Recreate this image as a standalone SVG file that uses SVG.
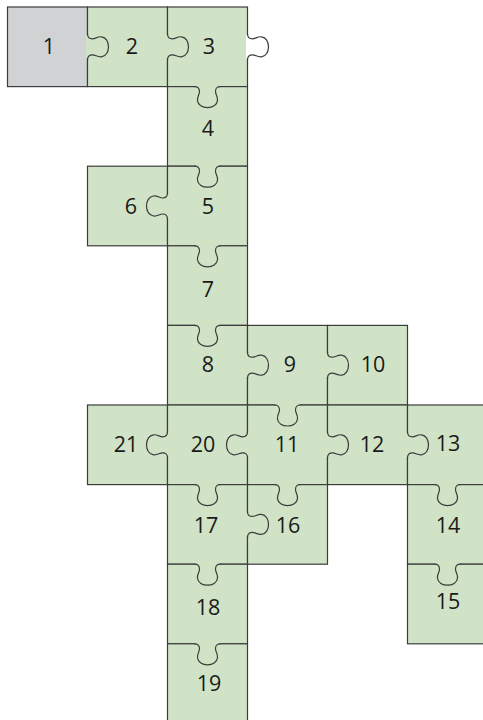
<svg xmlns="http://www.w3.org/2000/svg" xmlns:xlink="http://www.w3.org/1999/xlink" width="483" height="720" viewBox="0 0 483 720">
<style>
.p{fill:#d0e3c6;stroke:#3c3c3c;stroke-width:1.2}
.g{fill:#d1d2d4;stroke:#3c3c3c;stroke-width:1.2}
.cv{fill:none;stroke:#d0e3c6;stroke-width:3}
.cw{fill:none;stroke:#ffffff;stroke-width:3}
.kn{fill:none;stroke:#3c3c3c;stroke-width:1.2}
text{font-family:"Open Sans","Noto Sans","DejaVu Sans",sans-serif;font-size:21.5px;fill:#1a1a1a;text-anchor:middle}
</style>
<defs>
<path id="kp" class="kn" d="M-13,0 C-9,0 -8,2 -8,5 C-8,8 -10.5,10 -10,14 C-9.5,18.5 -5,21 0,21 C5,21 9.5,18.5 10,14 C10.5,10 8,8 8,5 C8,2 9,0 13,0"/>
<g id="k"><path class="cv" d="M-12,0H12"/><use xlink:href="#kp"/></g>
<g id="kw"><path class="cw" d="M-12,0H12"/><use xlink:href="#kp"/></g>
</defs>
<g id="n1"><rect class="g" x="7.5" y="7" width="80" height="79.6"/><text x="49" y="54">1</text></g>
<g id="n2"><rect class="p" x="87.5" y="7" width="80" height="79.6"/><text x="132" y="54">2</text></g>
<g id="n3"><rect class="p" x="167.5" y="7" width="80" height="79.6"/><text x="209" y="54">3</text></g>
<g id="n4"><rect class="p" x="167.5" y="86.6" width="80" height="79.6"/><text x="208" y="136">4</text></g>
<g id="n6"><rect class="p" x="87.5" y="166.2" width="80" height="79.6"/><text x="131" y="214">6</text></g>
<g id="n5"><rect class="p" x="167.5" y="166.2" width="80" height="79.6"/><text x="208" y="214">5</text></g>
<g id="n7"><rect class="p" x="167.5" y="245.8" width="80" height="79.6"/><text x="208" y="297">7</text></g>
<g id="n8"><rect class="p" x="167.5" y="325.4" width="80" height="79.6"/><text x="208" y="372">8</text></g>
<g id="n9"><rect class="p" x="247.5" y="325.4" width="80" height="79.6"/><text x="290" y="372">9</text></g>
<g id="n10"><rect class="p" x="327.5" y="325.4" width="80" height="79.6"/><text x="373" y="372">10</text></g>
<g id="n21"><rect class="p" x="87.5" y="405" width="80" height="79.6"/><text x="126" y="452">21</text></g>
<g id="n20"><rect class="p" x="167.5" y="405" width="80" height="79.6"/><text x="203" y="452">20</text></g>
<g id="n11"><rect class="p" x="247.5" y="405" width="80" height="79.6"/><text x="287" y="452">11</text></g>
<g id="n12"><rect class="p" x="327.5" y="405" width="80" height="79.6"/><text x="372" y="452">12</text></g>
<g id="n13"><rect class="p" x="407.5" y="405" width="80" height="79.6"/><text x="448" y="451">13</text></g>
<g id="n17"><rect class="p" x="167.5" y="484.6" width="80" height="79.6"/><text x="206" y="533">17</text></g>
<g id="n16"><rect class="p" x="247.5" y="484.6" width="80" height="79.6"/><text x="288" y="533">16</text></g>
<g id="n14"><rect class="p" x="407.5" y="484.6" width="80" height="79.6"/><text x="448" y="533">14</text></g>
<g id="n18"><rect class="p" x="167.5" y="564.2" width="80" height="79.6"/><text x="208" y="615">18</text></g>
<g id="n15"><rect class="p" x="407.5" y="564.2" width="80" height="79.6"/><text x="448" y="609">15</text></g>
<g id="n19"><rect class="p" x="167.5" y="643.8" width="80" height="79.6"/><text x="209" y="691">19</text></g>
<g id="joints">
<use xlink:href="#k" transform="translate(87.5,46.8) rotate(-90)"/>
<use xlink:href="#k" transform="translate(167.5,46.8) rotate(-90)"/>
<use xlink:href="#kw" transform="translate(247.5,46.8) rotate(-90)"/>
<use xlink:href="#k" transform="translate(247.5,365.2) rotate(-90)"/>
<use xlink:href="#k" transform="translate(327.5,365.2) rotate(-90)"/>
<use xlink:href="#k" transform="translate(327.5,444.8) rotate(-90)"/>
<use xlink:href="#k" transform="translate(407.5,444.8) rotate(-90)"/>
<use xlink:href="#k" transform="translate(247.5,524.4) rotate(-90)"/>
<use xlink:href="#k" transform="translate(167.5,206) rotate(90)"/>
<use xlink:href="#k" transform="translate(167.5,444.8) rotate(90)"/>
<use xlink:href="#k" transform="translate(247.5,444.8) rotate(90)"/>
<use xlink:href="#k" transform="translate(207.5,86.6)"/>
<use xlink:href="#k" transform="translate(207.5,166.2)"/>
<use xlink:href="#k" transform="translate(207.5,245.8)"/>
<use xlink:href="#k" transform="translate(207.5,325.4)"/>
<use xlink:href="#k" transform="translate(287.5,405)"/>
<use xlink:href="#k" transform="translate(207.5,484.6)"/>
<use xlink:href="#k" transform="translate(287.5,484.6)"/>
<use xlink:href="#k" transform="translate(447.5,484.6)"/>
<use xlink:href="#k" transform="translate(207.5,564.2)"/>
<use xlink:href="#k" transform="translate(447.5,564.2)"/>
<use xlink:href="#k" transform="translate(207.5,643.8)"/>
</g>
</svg>
